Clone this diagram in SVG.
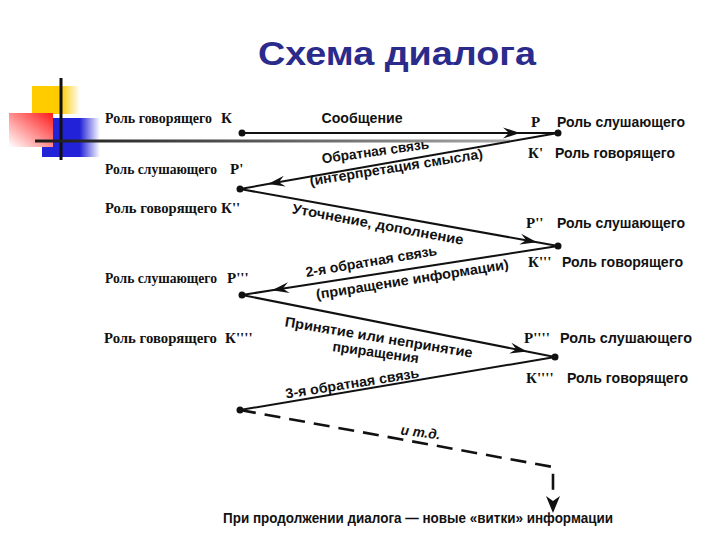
<svg xmlns="http://www.w3.org/2000/svg" width="720" height="540" viewBox="0 0 720 540">
<style>
.title{font-family:"Liberation Sans",Arial,sans-serif;font-weight:bold;font-size:34px;fill:#2b2b8c}
.ls{font-family:"Liberation Serif","Times New Roman",serif;font-weight:bold;font-size:14px;fill:#111}
.rs{font-family:"Liberation Sans",Arial,sans-serif;font-weight:bold;font-size:14px;fill:#111}
.let{font-family:"Liberation Serif","Times New Roman",serif;font-weight:bold;font-size:15px;fill:#111}
.lab{font-family:"Liberation Sans",Arial,sans-serif;font-weight:bold;font-size:14px;fill:#111}
.conn{fill:none;stroke:#111;stroke-width:2}
.dash{fill:none;stroke:#111;stroke-width:2.6;stroke-dasharray:16 9}
.dot{fill:#111}
</style>
<defs>
<marker id="ah" viewBox="-18 -7 20 14" refX="0" refY="0" markerWidth="20" markerHeight="14" markerUnits="userSpaceOnUse" orient="auto">
<path d="M0,0 L-17,-5.5 L-11,0 L-17,5.5 Z" fill="#111"/>
</marker>
<linearGradient id="gy" x1="0" y1="0" x2="1" y2="0"><stop offset="0" stop-color="#ffcc00"/><stop offset="0.6" stop-color="#ffcc00"/><stop offset="1" stop-color="#ffcc00" stop-opacity="0"/></linearGradient>
<linearGradient id="gb" x1="0" y1="0" x2="1" y2="0"><stop offset="0" stop-color="#2222d8"/><stop offset="0.65" stop-color="#2222d8"/><stop offset="1" stop-color="#2222d8" stop-opacity="0"/></linearGradient>
<linearGradient id="gr" x1="1" y1="0" x2="0" y2="1"><stop offset="0" stop-color="#ff1a1a"/><stop offset="1" stop-color="#ffffff"/></linearGradient>
<linearGradient id="gl" x1="0" y1="0" x2="1" y2="0"><stop offset="0" stop-color="#1a1a1a"/><stop offset="0.45" stop-color="#555"/><stop offset="1" stop-color="#aaa"/></linearGradient>
</defs>
<rect width="720" height="540" fill="#fff"/>

<g id="decoration">
<rect x="32" y="86" width="48" height="28" fill="url(#gy)"/>
<rect x="42" y="118" width="58" height="39" fill="url(#gb)"/>
<rect x="9" y="113" width="44" height="34" fill="url(#gr)"/>
<line x1="61" y1="78" x2="61" y2="160" stroke="#111" stroke-width="3"/>
<rect x="35" y="139.5" width="475" height="3" fill="url(#gl)"/>
</g>

<text class="title" x="397" y="65" text-anchor="middle" textLength="278" lengthAdjust="spacingAndGlyphs">Схема диалога</text>

<g id="left-labels">
<g id="n-K"><text class="ls" x="105" y="123" textLength="107" lengthAdjust="spacingAndGlyphs">Роль говорящего</text><text class="let" x="221" y="123">К</text></g>
<g id="n-P1"><text class="ls" x="105" y="174" textLength="112" lengthAdjust="spacingAndGlyphs">Роль слушающего</text><text class="let" x="230" y="174">Р'</text></g>
<g id="n-K2"><text class="ls" x="105" y="213" textLength="112" lengthAdjust="spacingAndGlyphs">Роль говорящего</text><text class="let" x="221" y="213">К''</text></g>
<g id="n-P3"><text class="ls" x="105" y="283" textLength="112" lengthAdjust="spacingAndGlyphs">Роль слушающего</text><text class="let" x="227" y="283">Р'''</text></g>
<g id="n-K4"><text class="ls" x="104" y="343" textLength="113" lengthAdjust="spacingAndGlyphs">Роль говорящего</text><text class="let" x="225" y="343">К''''</text></g>
</g>

<g id="right-labels">
<g id="n-P"><text class="let" x="531" y="127">Р</text><text class="rs" x="557" y="127" textLength="128" lengthAdjust="spacingAndGlyphs">Роль слушающего</text></g>
<g id="n-K1"><text class="let" x="528" y="158">К'</text><text class="rs" x="555" y="158" textLength="120" lengthAdjust="spacingAndGlyphs">Роль говорящего</text></g>
<g id="n-P2"><text class="let" x="526" y="228">Р''</text><text class="rs" x="557" y="228" textLength="128" lengthAdjust="spacingAndGlyphs">Роль слушающего</text></g>
<g id="n-K3"><text class="let" x="528" y="267">К'''</text><text class="rs" x="562" y="267" textLength="121" lengthAdjust="spacingAndGlyphs">Роль говорящего</text></g>
<g id="n-P4"><text class="let" x="524" y="343">Р''''</text><text class="rs" x="560" y="343" textLength="132" lengthAdjust="spacingAndGlyphs">Роль слушающего</text></g>
<g id="n-K5"><text class="let" x="526" y="383">К''''</text><text class="rs" x="567" y="383" textLength="121" lengthAdjust="spacingAndGlyphs">Роль говорящего</text></g>
</g>

<g id="connectors">
<path class="conn" d="M242,133 L520,133 L558,133" marker-mid="url(#ah)"/>
<path class="conn" d="M558,133 L268,184.07 L240,189" marker-mid="url(#ah)"/>
<path class="conn" d="M240,189 L537,242.2 L558,246" marker-mid="url(#ah)"/>
<path class="conn" d="M558,246 L272,290.3 L242,295" marker-mid="url(#ah)"/>
<path class="conn" d="M242,295 L527,351.5 L555,357" marker-mid="url(#ah)"/>
<path class="conn" d="M555,357 L240,410"/>
<path class="dash" d="M240,410 L553,467 L553,498"/>
<path d="M553,513 L546,496 L553,501 L560,496 Z" fill="#111"/>
<circle class="dot" cx="242" cy="133" r="3.5"/>
<circle class="dot" cx="558" cy="133" r="3.5"/>
<circle class="dot" cx="240" cy="189" r="3.5"/>
<circle class="dot" cx="558" cy="246" r="3.5"/>
<circle class="dot" cx="242" cy="295" r="3.5"/>
<circle class="dot" cx="555" cy="357" r="3.5"/>
<circle class="dot" cx="240" cy="410" r="3.5"/>
</g>

<g id="connector-labels">
<text class="lab" x="362" y="123" text-anchor="middle" textLength="81" lengthAdjust="spacingAndGlyphs">Сообщение</text>
<text class="lab" text-anchor="middle" transform="translate(376,156) rotate(-8)" textLength="108" lengthAdjust="spacingAndGlyphs">Обратная связь</text>
<text class="lab" text-anchor="middle" transform="translate(397,172) rotate(-9)" textLength="175" lengthAdjust="spacingAndGlyphs">(интерпретация смысла)</text>
<text class="lab" text-anchor="middle" transform="translate(377,229) rotate(10.5)" textLength="174" lengthAdjust="spacingAndGlyphs">Уточнение, дополнение</text>
<text class="lab" text-anchor="middle" transform="translate(372,266) rotate(-9.5)" textLength="133" lengthAdjust="spacingAndGlyphs">2-я обратная связь</text>
<text class="lab" text-anchor="middle" transform="translate(413,284) rotate(-9)" textLength="195" lengthAdjust="spacingAndGlyphs">(приращение информации)</text>
<text class="lab" text-anchor="middle" transform="translate(378,342) rotate(9.5)" textLength="190" lengthAdjust="spacingAndGlyphs">Принятие или непринятие</text>
<text class="lab" text-anchor="middle" transform="translate(375,357) rotate(8)" textLength="87" lengthAdjust="spacingAndGlyphs">приращения</text>
<text class="lab" text-anchor="middle" transform="translate(353,388) rotate(-9)" textLength="135" lengthAdjust="spacingAndGlyphs">3-я обратная связь</text>
<text class="lab" text-anchor="middle" font-style="italic" transform="translate(420,437) rotate(7)" textLength="40" lengthAdjust="spacingAndGlyphs">и т.д.</text>
</g>

<text class="lab" x="418" y="523" text-anchor="middle" textLength="390" lengthAdjust="spacingAndGlyphs">При продолжении диалога — новые «витки» информации</text>
</svg>
